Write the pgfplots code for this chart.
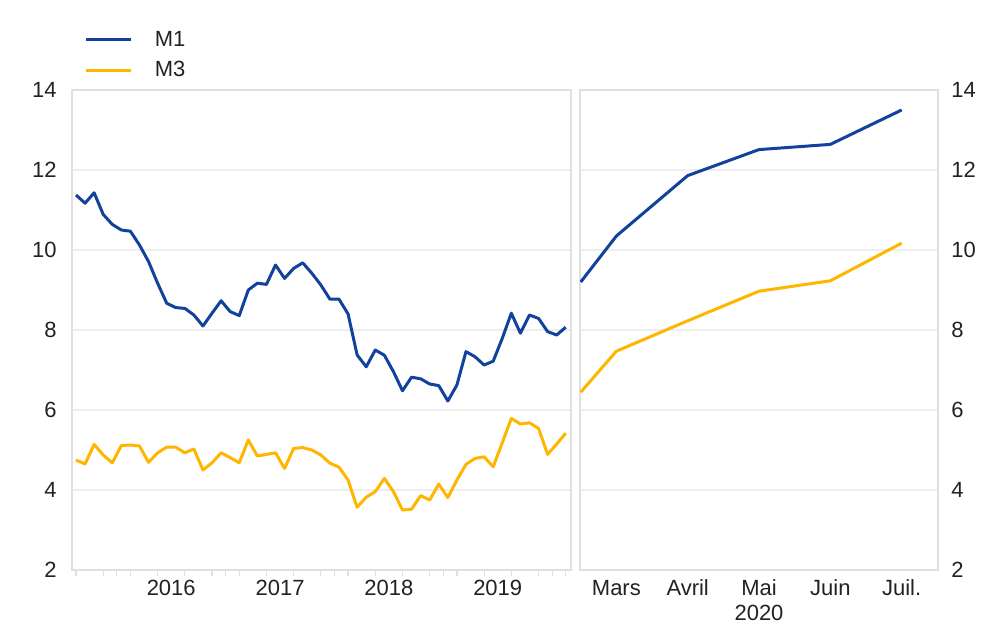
\documentclass[border=0pt]{standalone}
\usepackage{fontspec}
\setmainfont{Liberation Sans}
\usepackage{pgfplots}
\pgfplotsset{compat=1.18}
\usepackage{pgfplotstable}

\definecolor{ecbblue}{RGB}{18,66,156}
\definecolor{ecbyellow}{RGB}{255,182,0}
\definecolor{gridgray}{RGB}{238,238,238}
\definecolor{framegray}{RGB}{224,224,224}
\definecolor{txt}{RGB}{34,34,34}

% monthly index 0 = Aug 2015 ... 54 = Feb 2020
\pgfplotstableread{
x m1 m3
0 11.375 4.75
1 11.17 4.65
2 11.43 5.14
3 10.89 4.875
4 10.64 4.68
5 10.50 5.11
6 10.47 5.125
7 10.125 5.10
8 9.71 4.69
9 9.17 4.93
10 8.67 5.07
11 8.56 5.07
12 8.54 4.93
13 8.375 5.025
14 8.10 4.50
15 8.42 4.68
16 8.73 4.93
17 8.46 4.81
18 8.36 4.68
19 9.00 5.25
20 9.17 4.85
21 9.14 4.89
22 9.625 4.93
23 9.29 4.54
24 9.54 5.04
25 9.68 5.06
26 9.42 5.00
27 9.125 4.875
28 8.77 4.67
29 8.77 4.57
30 8.40 4.25
31 7.375 3.57
32 7.08 3.82
33 7.50 3.96
34 7.37 4.29
35 6.96 3.96
36 6.48 3.50
37 6.82 3.52
38 6.78 3.86
39 6.65 3.75
40 6.61 4.15
41 6.225 3.81
42 6.625 4.25
43 7.46 4.64
44 7.33 4.79
45 7.125 4.83
46 7.22 4.58
47 7.79 5.18
48 8.42 5.79
49 7.92 5.65
50 8.375 5.68
51 8.29 5.54
52 7.96 4.89
53 7.875 5.15
54 8.07 5.42
}\histdata

\pgfplotstableread{
x m1 m3
0.5 9.20 6.445
1 10.35 7.47
2 11.86 8.23
3 12.51 8.97
4 12.64 9.23
5 13.50 10.17
}\recentdata

\pgfplotsset{
  panel/.style={
    scale only axis,
    height=240bp,
    ymin=2, ymax=14,
    ytick={2,4,...,14},
    ymajorgrids,
    grid style={gridgray, line width=0.8bp},
    axis line style={framegray, line width=0.8bp},
    major tick length=0pt,
    tick align=outside,
    xtick pos=bottom,
    tick label style={font=\fontsize{11bp}{13bp}\selectfont, text=txt},
    /pgf/number format/assume math mode=true,
    xticklabel style={anchor=base, inner sep=0pt, yshift=-12.5bp},
  },
  m1style/.style={ecbblue, line width=1.5bp, line join=round},
  m3style/.style={ecbyellow, line width=1.5bp, line join=round},
}

\begin{document}
\begin{tikzpicture}[font=\fontsize{11bp}{13bp}\selectfont]
\path[use as bounding box] (0,0) rectangle (492bp,314.5bp);

\begin{axis}[panel,
  at={(36bp,29.5bp)}, anchor=south west,
  width=249.5bp,
  xmin=-0.44, xmax=54.58,
  xtick={10.5,22.5,34.5,46.5},
  xticklabels={2016,2017,2018,2019},
  minor xtick={0,3,...,54,4.5,16.5,28.5,40.5,52.5},
  minor tick length=3bp,
  minor tick style={framegray, line width=0.6bp},
  ytick pos=left,
  yticklabel style={anchor=east, inner sep=0pt, xshift=-7.5bp},
  legend style={at={(0.012,1.146)}, anchor=north west, draw=none, fill=none,
    row sep=0pt, font=\fontsize{11bp}{13bp}\selectfont, text=txt,
    nodes={inner xsep=0bp, inner ysep=3bp, text height=8bp, text depth=1.3bp},
    /tikz/every odd column/.append style={column sep=11.2bp}},
  legend cell align=left,
  legend image code/.code={\draw[#1] (0bp,0bp) -- (22.5bp,0bp);},
]
\addplot[m1style] table[x=x, y=m1] {\histdata};
\addlegendentry{M1}
\addplot[m3style] table[x=x, y=m3] {\histdata};
\addlegendentry{M3}
\end{axis}

\begin{axis}[panel,
  at={(290bp,29.5bp)}, anchor=south west,
  width=179bp,
  xmin=0.49, xmax=5.51,
  xtick={1,2,3,4,5},
  xticklabels={Mars,Avril,Mai,Juin,Juil.},
  ytick pos=right,
  yticklabel pos=right,
  yticklabel style={anchor=west, inner sep=0pt, xshift=6.5bp},
  xlabel={2020},
  xlabel style={at={(axis description cs:0.5,0)}, anchor=base, inner sep=0pt, yshift=-25bp, text=txt, font=\fontsize{11bp}{13bp}\selectfont},
]
\addplot[m1style] table[x=x, y=m1] {\recentdata};
\addplot[m3style] table[x=x, y=m3] {\recentdata};
\end{axis}
\end{tikzpicture}
\end{document}
